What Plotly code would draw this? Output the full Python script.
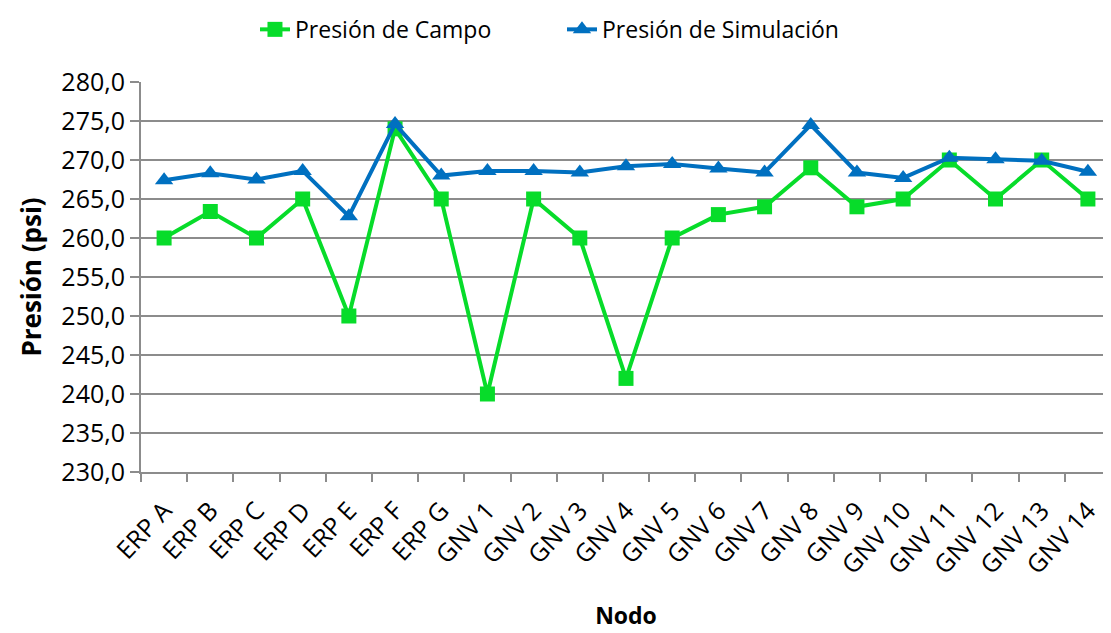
import plotly.graph_objects as go

nodos = ['ERP A', 'ERP B', 'ERP C', 'ERP D', 'ERP E', 'ERP F', 'ERP G',
         'GNV 1', 'GNV 2', 'GNV 3', 'GNV 4', 'GNV 5', 'GNV 6', 'GNV 7',
         'GNV 8', 'GNV 9', 'GNV 10', 'GNV 11', 'GNV 12', 'GNV 13', 'GNV 14']

presion_campo = [260.0, 263.4, 260.0, 265.0, 250.0, 274.0, 265.0,
                 240.0, 265.0, 260.0, 242.0, 260.0, 263.0, 264.0,
                 269.0, 264.0, 265.0, 270.0, 265.0, 270.0, 265.0]

presion_simulacion = [267.4, 268.3, 267.5, 268.6, 262.8, 274.6, 268.0,
                      268.6, 268.6, 268.4, 269.2, 269.5, 268.9, 268.4,
                      274.5, 268.4, 267.7, 270.3, 270.1, 269.9, 268.5]

y_ticks = [230, 235, 240, 245, 250, 255, 260, 265, 270, 275, 280]

FONT = 'Open Sans, sans-serif'
GREEN = '#07DC2A'
BLUE = '#0070C0'
GRID = '#8C8C8C'

fig = go.Figure()
fig.add_trace(go.Scatter(
    x=nodos, y=presion_campo, name='Presión de Campo',
    mode='lines+markers',
    line=dict(color=GREEN, width=4),
    marker=dict(symbol='square', size=15, color=GREEN)
))
fig.add_trace(go.Scatter(
    x=nodos, y=presion_simulacion, name='Presión de Simulación',
    mode='lines+markers',
    line=dict(color=BLUE, width=4),
    marker=dict(symbol='triangle-up', size=16, color=BLUE)
))

# page has an 8px body margin, so margins are shifted to land the plot area
fig.update_layout(
    width=1111, height=633,
    margin=dict(l=133, r=8, t=74, b=169, autoexpand=False),
    paper_bgcolor='white', plot_bgcolor='white',
    separators=',.',
    font=dict(family=FONT, size=22, color='black'),
    legend=dict(orientation='h', x=0.1175, xanchor='left',
                yref='paper', y=1.19, yanchor='top',
                font=dict(size=23), entrywidth=262,
                traceorder='normal'),
    showlegend=True,
)

fig.update_xaxes(
    type='category', range=[-0.5, 20.5], automargin=False,
    tickangle=-47, tickfont=dict(size=25),
    ticklabelstandoff=12,
    showline=True, linecolor=GRID, linewidth=2,
    ticks='outside', tickson='boundaries', ticklen=8, tickcolor=GRID, tickwidth=2,
    showgrid=False,
    title=dict(text='<b>Nodo</b>', font=dict(size=23), standoff=28),
)
fig.update_yaxes(
    range=[230, 280], tickvals=y_ticks, tickformat='.1f', automargin=False,
    tickfont=dict(size=25),
    showline=True, linecolor=GRID, linewidth=2,
    ticks='outside', ticklen=9, tickcolor=GRID, tickwidth=2,
    showgrid=True, gridcolor=GRID, gridwidth=2,
    zeroline=False,
    title=dict(text='<b>Presión (psi)</b>', font=dict(size=26), standoff=12),
)

fig.write_html("out.html")
